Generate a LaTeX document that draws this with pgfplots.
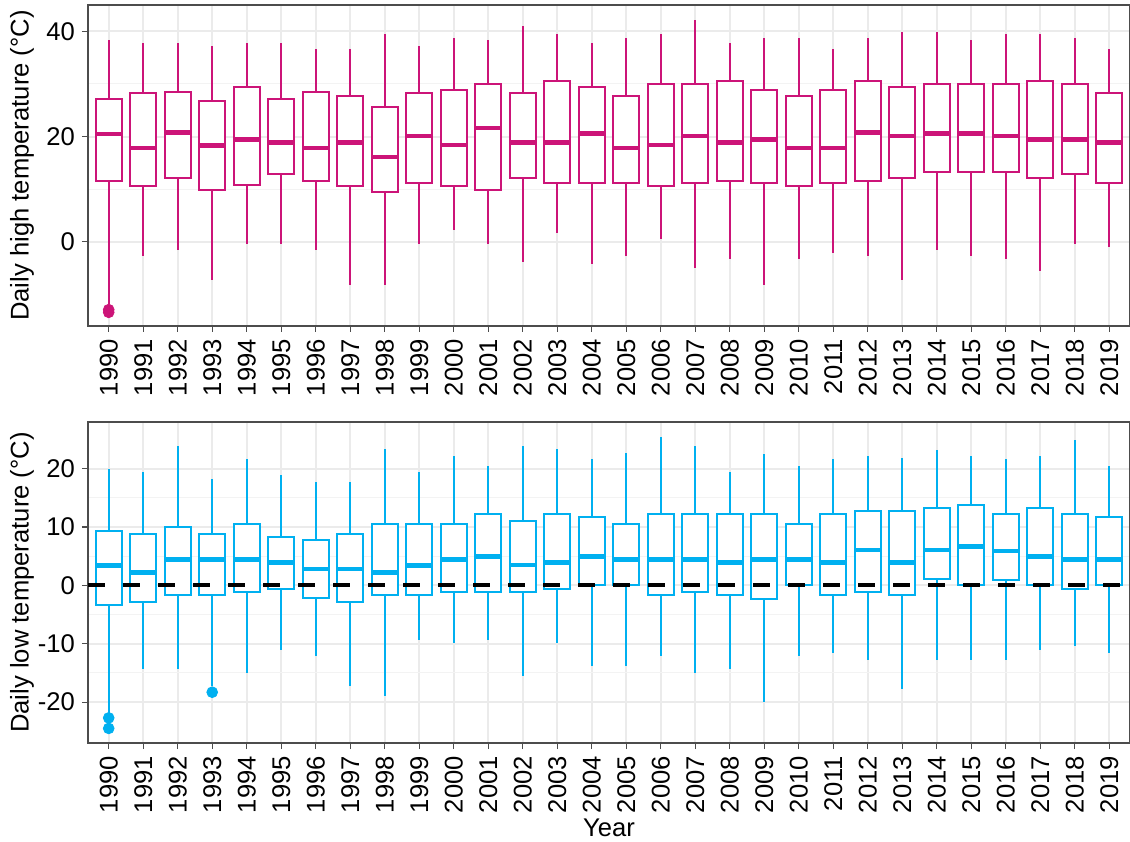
\documentclass[border=0pt]{standalone}
\usepackage{fontspec}
\setmainfont{Liberation Sans}
\usepackage{pgfplots}
\usepackage{pgfplotstable}
\pgfplotsset{compat=1.18}
\usepgfplotslibrary{statistics}

\definecolor{hicol}{HTML}{CC1478}
\definecolor{locol}{HTML}{00B0F0}
\definecolor{gridmaj}{HTML}{EBEBEB}
\definecolor{gridmin}{HTML}{F3F3F3}

% box statistics per year (0 = 1990)
\pgfplotstableread{
pos lw lq med uq uw
0 -11.8 11.6 20.5 27.2 38.3
1 -2.7 10.6 17.8 28.3 37.8
2 -1.6 12.2 20.8 28.4 37.8
3 -7.2 9.9 18.3 26.7 37.2
4 -0.5 10.7 19.4 29.5 37.8
5 -0.5 12.8 18.9 27.2 37.8
6 -1.5 11.6 17.8 28.4 36.6
7 -8.2 10.6 18.9 27.8 36.6
8 -8.2 9.4 16.1 25.6 39.4
9 -0.4 11.2 20.1 28.3 37.2
10 2.3 10.6 18.4 28.9 38.8
11 -0.4 9.9 21.6 30.0 38.3
12 -3.8 12.2 18.9 28.3 41.1
13 1.7 11.2 18.9 30.6 39.4
14 -4.3 11.2 20.6 29.4 37.8
15 -2.7 11.2 17.8 27.7 38.8
16 0.6 10.6 18.4 30.0 39.4
17 -4.9 11.2 20.1 30.0 42.2
18 -3.2 11.6 18.9 30.6 37.8
19 -8.2 11.2 19.4 28.9 38.8
20 -3.2 10.6 17.8 27.7 38.8
21 -2.1 11.2 17.8 28.9 36.6
22 -2.7 11.6 20.8 30.6 38.8
23 -7.2 12.2 20.1 29.4 39.9
24 -1.6 13.3 20.6 30.0 39.9
25 -2.7 13.3 20.6 30.0 38.3
26 -3.2 13.3 20.1 30.0 39.4
27 -5.6 12.2 19.4 30.6 39.4
28 -0.5 12.8 19.4 30.0 38.8
29 -1.0 11.2 18.9 28.3 36.6
}\hightab

\pgfplotstableread{
pos lw lq med uq uw
0 -21.8 -3.4 3.4 9.4 19.9
1 -14.4 -2.8 2.2 8.8 19.4
2 -14.4 -1.7 4.4 10.0 23.9
3 -17.3 -1.7 4.4 8.8 18.2
4 -15.0 -1.1 4.4 10.5 21.6
5 -11.0 -0.6 3.9 8.3 18.9
6 -12.1 -2.2 2.8 7.7 17.8
7 -17.2 -2.8 2.8 8.8 17.8
8 -18.9 -1.7 2.2 10.5 23.3
9 -9.4 -1.7 3.4 10.5 19.4
10 -9.9 -1.1 4.4 10.5 22.2
11 -9.4 -1.1 5.0 12.2 20.5
12 -15.6 -1.1 3.5 11.1 23.9
13 -9.9 -0.6 3.9 12.2 23.3
14 -13.8 0.0 5.0 11.7 21.6
15 -13.8 0.0 4.4 10.5 22.7
16 -12.1 -1.7 4.4 12.2 25.5
17 -15.0 -1.1 4.4 12.2 23.9
18 -14.4 -1.7 3.9 12.2 19.4
19 -20.0 -2.3 4.4 12.2 22.5
20 -12.1 0.0 4.4 10.5 20.5
21 -11.6 -1.7 3.9 12.2 21.6
22 -12.7 -1.1 6.1 12.8 22.2
23 -17.7 -1.7 3.9 12.8 21.9
24 -12.7 1.1 6.1 13.3 23.2
25 -12.7 0.0 6.7 13.8 22.2
26 -12.7 0.9 5.9 12.2 21.6
27 -11.0 0.0 5.0 13.3 22.2
28 -10.4 -0.6 4.4 12.2 24.9
29 -11.6 0.0 4.4 11.7 20.5
}\lowtab

\newcommand\txtfont{\fontsize{12.8}{14}\selectfont}

\pgfplotsset{
  panel/.style={
    width=521pt, height=160.5pt, scale only axis,
    anchor=north west,
    xmin=-0.6, xmax=29.6,
    xtick={0,...,29},
    xticklabels={1990,1991,1992,1993,1994,1995,1996,1997,1998,1999,
      2000,2001,2002,2003,2004,2005,2006,2007,2008,2009,
      2010,2011,2012,2013,2014,2015,2016,2017,2018,2019},
    x tick label style={rotate=90, anchor=east},
    xtick pos=left, ytick pos=left,
    grid=both,
    major grid style={gridmaj, line width=1pt},
    minor grid style={gridmin, line width=0.5pt},
    minor y tick num=1,
    tick align=outside, major tick length=3pt, minor tick length=0pt,
    tick style={black!70, line width=0.6pt},
    axis line style={black!70, line width=0.8pt},
    ticklabel style={font=\txtfont, text=black},
    /pgf/number format/assume math mode=true,
    every axis y label/.style={at={(axis description cs:-0.0633,0.5)},
      anchor=center, rotate=90, font=\txtfont},
    boxplot/draw direction=y,
    boxplot/box extend=0.75,
    boxplot/whisker extend=0,
  },
  hibox/.style={hicol, line width=1pt,
    boxplot/every box/.style={draw=hicol, fill=white, line width=1pt},
    boxplot/every median/.style={draw=hicol, line width=2.3pt}},
  lobox/.style={locol, line width=1pt,
    boxplot/every box/.style={draw=locol, fill=white, line width=1pt},
    boxplot/every median/.style={draw=locol, line width=2.3pt}},
}

% draw one box from row #1 of table #2 with style #3
\newcommand\drawbox[3]{%
  \pgfplotstablegetelem{#1}{lw}\of#2\edef\vLW{\pgfplotsretval}%
  \pgfplotstablegetelem{#1}{lq}\of#2\edef\vLQ{\pgfplotsretval}%
  \pgfplotstablegetelem{#1}{med}\of#2\edef\vMD{\pgfplotsretval}%
  \pgfplotstablegetelem{#1}{uq}\of#2\edef\vUQ{\pgfplotsretval}%
  \pgfplotstablegetelem{#1}{uw}\of#2\edef\vUW{\pgfplotsretval}%
  \edef\doit{\noexpand\addplot[#3, boxplot prepared={draw position=#1,
    lower whisker=\vLW, lower quartile=\vLQ, median=\vMD,
    upper quartile=\vUQ, upper whisker=\vUW}] coordinates {};}%
  \doit
}

\begin{document}
\begin{tikzpicture}
\begin{axis}[panel, at={(44pt,-2.5pt)},
  ymin=-16, ymax=45, ytick={0,20,40},
  ylabel={Daily high temperature (°C)}]
  \pgfplotsinvokeforeach{0,...,29}{\drawbox{#1}{\hightab}{hibox}}
  \addplot[only marks, mark=*, hicol, mark size=2.7pt]
    coordinates {(0,-12.9) (0,-13.4)};
\end{axis}

\begin{axis}[panel, at={(44pt,-211pt)},
  ymin=-27, ymax=28, ytick={-20,-10,0,10,20},
  ylabel={Daily low temperature (°C)},
  xlabel={Year},
  every axis x label/.style={at={(axis description cs:0.5,-0.265)},
    anchor=center, font=\txtfont}]
  \pgfplotsinvokeforeach{0,...,29}{\drawbox{#1}{\lowtab}{lobox}}
  \addplot[only marks, mark=*, locol, mark size=2.7pt]
    coordinates {(0,-22.7) (0,-24.5) (3,-18.3)};
  \addplot[black, line width=2pt, dash pattern=on 8.5pt off 9pt]
    coordinates {(-0.6,0) (29.6,0)};
\end{axis}
\pgfresetboundingbox
\path (0,0) rectangle (565pt,-420.5pt);
\end{tikzpicture}
\end{document}
